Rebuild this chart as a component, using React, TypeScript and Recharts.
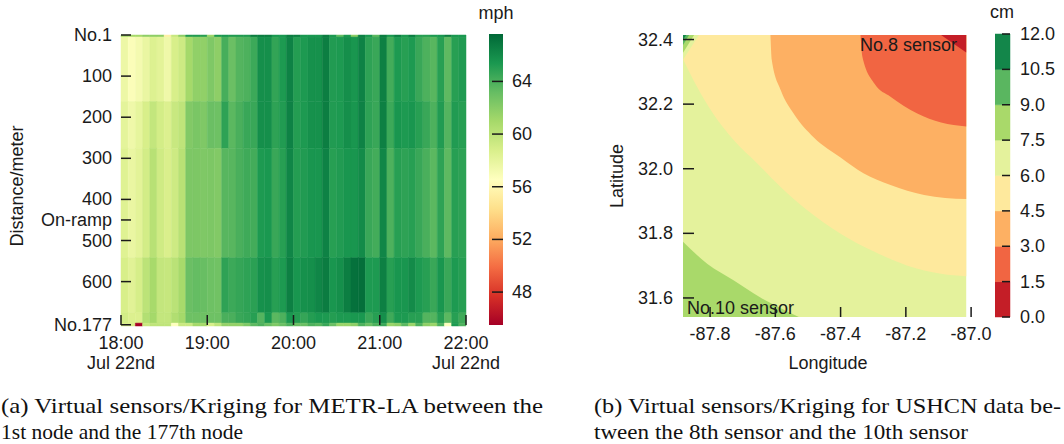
import React from "react";
import { ComposedChart, XAxis, YAxis, ReferenceArea, Area } from "recharts";

const SANS = "'Liberation Sans', Arial, Helvetica, sans-serif";
const SERIF = "'Liberation Serif', 'Times New Roman', serif";
const INK = "#1a1a1a";
const FS = 18;

// ---------- (a) METR-LA speed, mph, 5-minute slots from 18:00 to 22:00 ----------
const SLOT_MIN = 5;
const SEGMENT_EDGES = [0, 5, 162, 276, 542, 676, 701, 708]; // metres from node No.1
const SPEED_NO1 = [61.0, 61.0, 61.0, 61.8, 61.8, 61.8, 55.5, 59.5, 61.8, 65.2, 65.2, 65.0, 61.2, 65.4, 65.4, 65.2, 65.2, 65.2, 66.6, 66.6, 66.6, 65.4, 65.4, 66.6, 66.6, 65.4, 65.4, 65.4, 66.6, 65.3, 63.2, 65.3, 61.8, 66.4, 65.4, 63.4, 66.6, 65.4, 66.6, 65.3, 66.6, 65.0, 65.0, 65.3, 65.4, 66.6, 65.4, 65.4];
const SPEED_SEG_A = [57.6, 56.8, 57.2, 57.8, 58.5, 58.2, 57.5, 58.8, 59.3, 61.0, 61.7, 61.7, 62.3, 61.8, 64.1, 63.0, 63.7, 63.9, 64.4, 65.8, 65.8, 64.7, 65.3, 66.4, 65.1, 65.3, 65.7, 65.7, 66.6, 65.2, 65.3, 65.8, 65.5, 66.4, 64.8, 64.5, 66.5, 64.2, 65.3, 65.0, 65.3, 64.5, 63.9, 63.6, 65.0, 63.4, 65.0, 65.2];
const SPEED_SEG_B = [58.1, 57.5, 58.0, 58.8, 59.7, 59.0, 58.6, 59.5, 59.9, 62.2, 62.5, 62.3, 63.0, 62.9, 64.8, 63.5, 64.0, 64.5, 64.5, 65.8, 65.8, 64.8, 65.2, 66.4, 65.1, 65.3, 65.7, 65.7, 66.6, 65.2, 65.3, 65.8, 65.5, 66.4, 64.8, 64.5, 66.5, 64.4, 65.5, 65.3, 65.5, 65.0, 64.5, 63.9, 65.2, 63.7, 65.2, 65.0];
const SPEED_SEG_C = [58.4, 57.8, 58.2, 59.0, 60.2, 59.2, 58.7, 59.3, 60.2, 62.4, 62.4, 62.3, 62.4, 62.2, 63.6, 63.6, 64.0, 64.3, 64.2, 65.3, 65.4, 64.5, 65.0, 66.2, 65.1, 65.2, 65.5, 65.5, 66.4, 65.0, 65.2, 65.5, 65.5, 66.0, 64.5, 64.2, 66.2, 63.9, 65.0, 64.8, 65.0, 64.5, 64.0, 63.5, 64.8, 63.4, 65.0, 64.8];
const SPEED_SEG_D = [58.8, 58.3, 58.9, 60.0, 60.9, 59.7, 59.6, 60.1, 60.9, 63.0, 63.2, 63.1, 62.9, 62.8, 64.8, 64.4, 64.6, 64.8, 64.9, 65.7, 65.8, 65.0, 65.3, 66.5, 65.5, 65.7, 65.8, 66.2, 66.7, 65.5, 65.8, 66.6, 67.2, 67.3, 65.3, 65.3, 66.5, 65.0, 65.5, 65.5, 66.0, 65.3, 65.0, 64.5, 65.5, 64.5, 65.3, 65.0];
const SPEED_SEG_E = [59.0, 58.6, 58.6, 60.4, 61.0, 59.7, 59.7, 60.5, 61.0, 62.9, 62.9, 62.9, 62.9, 62.9, 64.0, 64.0, 64.5, 64.7, 65.0, 63.7, 65.4, 63.5, 63.9, 65.4, 65.1, 64.6, 65.1, 65.4, 65.3, 65.1, 65.3, 65.3, 65.4, 65.4, 64.5, 65.0, 65.8, 64.3, 65.3, 65.3, 65.0, 65.0, 63.7, 63.7, 65.0, 63.5, 65.0, 64.3];
const SPEED_NO177 = [58.8, 58.8, 45.5, 59.5, 59.9, 59.9, 59.9, 56.6, 59.4, 59.4, 61.0, 61.0, 58.8, 59.9, 61.6, 61.6, 61.6, 62.3, 63.4, 63.9, 63.0, 62.3, 63.0, 63.9, 63.0, 63.0, 63.9, 63.6, 64.5, 63.0, 61.4, 61.4, 61.8, 63.9, 63.0, 63.9, 64.5, 61.4, 61.8, 63.5, 61.4, 63.9, 61.8, 61.4, 63.9, 56.6, 65.3, 63.9];
const SPEED_ROWS = [SPEED_NO1, SPEED_SEG_A, SPEED_SEG_B, SPEED_SEG_C, SPEED_SEG_D, SPEED_SEG_E, SPEED_NO177];

const SPEED_MIN = 45.5;
const SPEED_MAX = 67.6;
const SPEED_TICKS = [48, 52, 56, 60, 64];
const DIST_TICKS = [0, 100, 200, 300, 400, 450, 500, 600, 705];
const DIST_LABELS = ["No.1", "100", "200", "300", "400", "On-ramp", "500", "600", "No.177"];
const TIME_TICKS = [0, 60, 120, 180, 240];
const TIME_LABELS = ["18:00", "19:00", "20:00", "21:00", "22:00"];
const DATE_LABELS = ["Jul 22nd", "", "", "", "Jul 22nd"];

// ---------- (b) USHCN kriging, cm, contour level boundaries (lon, lat) ----------
const LON_MIN = -87.883;
const LON_DATA_MAX = -87.015;
const LON_AXIS_MAX = -86.985;
const LAT_MIN = 31.541;
const LAT_MAX = 32.414;
const LON_TICKS = [-87.8, -87.6, -87.4, -87.2, -87.0];
const LAT_TICKS = [31.6, 31.8, 32.0, 32.2, 32.4];
const LEVELS = [0, 1.5, 3.0, 4.5, 6.0, 7.5, 9.0, 10.5, 12.0];
const LEVEL_COLORS = ["#c41e27", "#f16542", "#fdb063", "#fee99d", "#e4f29c", "#a9d96a", "#5ab660", "#13864a"];

const EDGE_1_5_LON = [-87.092, -87.015];
const EDGE_1_5_LAT = [32.414, 32.360];
const EDGE_3_0_LON = [-87.339, -87.333, -87.296, -87.247, -87.165, -87.092, -87.015];
const EDGE_3_0_LAT = [32.414, 32.346, 32.263, 32.223, 32.171, 32.143, 32.131];
const EDGE_4_5_LON = [-87.615, -87.611, -87.583, -87.544, -87.482, -87.400, -87.330, -87.247, -87.144, -87.015];
const EDGE_4_5_LAT = [32.414, 32.337, 32.242, 32.171, 32.097, 32.035, 31.986, 31.950, 31.919, 31.906];
const EDGE_6_0_LON = [-87.883, -87.840, -87.791, -87.727, -87.656, -87.583, -87.504, -87.400, -87.296, -87.195, -87.092, -87.015];
const EDGE_6_0_LAT = [32.340, 32.254, 32.171, 32.088, 32.017, 31.943, 31.873, 31.799, 31.743, 31.700, 31.675, 31.667];
const EDGE_7_5_LON = [-87.883, -87.809, -87.727, -87.647, -87.583, -87.528];
const EDGE_7_5_LAT = [31.774, 31.706, 31.654, 31.602, 31.568, 31.541];
// small high-value corner at the top left
const CORNER_6_0_LON = [-87.883, -87.834];
const CORNER_6_0_LAT = [32.337, 32.414];
const CORNER_7_5_LON = [-87.883, -87.849];
const CORNER_7_5_LAT = [32.359, 32.414];
const CORNER_9_0_LON = [-87.883, -87.864];
const CORNER_9_0_LAT = [32.383, 32.414];
const CORNER_10_5_LON = [-87.883, -87.873];
const CORNER_10_5_LAT = [32.399, 32.414];
const FULL_LON = [LON_MIN, LON_DATA_MAX];
const FULL_LAT = [LAT_MAX, LAT_MAX];

const RDYLGN = ["#a50026", "#d73027", "#f46d43", "#fdae61", "#fee08b", "#ffffbf", "#d9ef8b", "#a6d96a", "#66bd63", "#1a9850", "#006837"];

function rgb(h: string) {
  return [1, 3, 5].map((i) => parseInt(h.slice(i, i + 2), 16));
}

function speedColor(v: number) {
  const t = Math.max(0, Math.min(1, (v - SPEED_MIN) / (SPEED_MAX - SPEED_MIN)));
  const p = t * 10;
  const i = Math.min(9, Math.floor(p));
  const f = p - i;
  const a = rgb(RDYLGN[i]);
  const b = rgb(RDYLGN[i + 1]);
  return `rgb(${a.map((x, k) => Math.round(x + (b[k] - x) * f)).join(",")})`;
}

const cells = SPEED_ROWS.flatMap((row, r) =>
  row.map((v, c) => ({
    t0: c * SLOT_MIN,
    t1: (c + 1) * SLOT_MIN,
    d0: SEGMENT_EDGES[r],
    d1: SEGMENT_EDGES[r + 1],
    color: speedColor(v),
  }))
);

const edges = [
  { key: "full", lon: FULL_LON, lat: FULL_LAT },
  { key: "e75", lon: EDGE_7_5_LON, lat: EDGE_7_5_LAT },
  { key: "e60", lon: EDGE_6_0_LON, lat: EDGE_6_0_LAT },
  { key: "e45", lon: EDGE_4_5_LON, lat: EDGE_4_5_LAT },
  { key: "e30", lon: EDGE_3_0_LON, lat: EDGE_3_0_LAT },
  { key: "e15", lon: EDGE_1_5_LON, lat: EDGE_1_5_LAT },
  { key: "c60", lon: CORNER_6_0_LON, lat: CORNER_6_0_LAT },
  { key: "c75", lon: CORNER_7_5_LON, lat: CORNER_7_5_LAT },
  { key: "c90", lon: CORNER_9_0_LON, lat: CORNER_9_0_LAT },
  { key: "c105", lon: CORNER_10_5_LON, lat: CORNER_10_5_LAT },
];
const contourRows = edges
  .flatMap((e) => e.lon.map((lon, i) => ({ lon, [e.key]: e.lat[i] })))
  .sort((a, b) => a.lon - b.lon);

// key, fill colour, which side of the edge is filled, curve
const bands: [string, string, number, string][] = [
  ["full", LEVEL_COLORS[4], LAT_MIN, "linear"],
  ["e75", LEVEL_COLORS[5], LAT_MIN, "monotone"],
  ["e60", LEVEL_COLORS[3], LAT_MAX, "monotone"],
  ["e45", LEVEL_COLORS[2], LAT_MAX, "monotone"],
  ["e30", LEVEL_COLORS[1], LAT_MAX, "monotone"],
  ["e15", LEVEL_COLORS[0], LAT_MAX, "linear"],
  ["c60", LEVEL_COLORS[4], LAT_MAX, "linear"],
  ["c75", LEVEL_COLORS[5], LAT_MAX, "linear"],
  ["c90", LEVEL_COLORS[6], LAT_MAX, "linear"],
  ["c105", LEVEL_COLORS[7], LAT_MAX, "linear"],
];

const txt = { fontFamily: SANS, fontSize: FS, fill: INK };

// ticks are drawn inward, labels outside
const DistTick = (p: any) => {
  const i = DIST_TICKS.indexOf(p.payload.value);
  return (
    <g>
      <line x1={p.x} x2={p.x + 10} y1={p.y} y2={p.y} stroke={INK} strokeWidth={1.5} />
      <text x={p.x - 9} y={p.y + 6} textAnchor="end" {...txt}>{DIST_LABELS[i]}</text>
    </g>
  );
};

const TimeTick = (p: any) => {
  const i = TIME_TICKS.indexOf(p.payload.value);
  return (
    <g>
      <line x1={p.x} x2={p.x} y1={p.y - 11} y2={p.y - 1} stroke={INK} strokeWidth={1.5} />
      <text x={p.x} y={p.y + 23} textAnchor="middle" {...txt}>{TIME_LABELS[i]}</text>
      <text x={p.x} y={p.y + 43} textAnchor="middle" {...txt}>{DATE_LABELS[i]}</text>
    </g>
  );
};

const LatTick = (p: any) => (
  <g>
    <line x1={p.x} x2={p.x + 11} y1={p.y} y2={p.y} stroke={INK} strokeWidth={1.5} />
    <text x={p.x - 10} y={p.y + 6} textAnchor="end" {...txt}>{p.payload.value.toFixed(1)}</text>
  </g>
);

const LonTick = (p: any) => (
  <g>
    <line x1={p.x} x2={p.x} y1={p.y - 10} y2={p.y} stroke={INK} strokeWidth={1.5} />
    <text x={p.x} y={p.y + 23} textAnchor="middle" {...txt}>{p.payload.value.toFixed(1)}</text>
  </g>
);

const barTick = (len: number, gap: number, digits: number) => (p: any) => (
  <g>
    <line x1={p.x - len} x2={p.x} y1={p.y} y2={p.y} stroke={INK} strokeWidth={1.5} />
    <text x={p.x + gap} y={p.y + 6} textAnchor="start" {...txt}>{p.payload.value.toFixed(digits)}</text>
  </g>
);

// axis boxes are 1px wide so their ticks still render; tick props then sit on the plot edge
const axisOff = { axisLine: false, tickLine: false, tickSize: 0, tickMargin: 0, interval: 0 as const, allowDataOverflow: true };

export default function App() {
  return (
    <div style={{ position: "absolute", left: 0, top: 0, width: 1064, height: 444, background: "#fff" }}>
      {/* (a) heatmap */}
      <div style={{ position: "absolute", left: 0, top: 0 }}>
        <ComposedChart width={540} height={380} margin={{ top: 35, right: 74, bottom: 53, left: 120 }}>
          {cells.map((c, i) => (
            <ReferenceArea key={i} x1={c.t0} x2={c.t1} y1={c.d0} y2={c.d1}
              fill={c.color} fillOpacity={1} stroke={c.color} strokeWidth={0.5} ifOverflow="visible" />
          ))}
          <XAxis type="number" dataKey="t" domain={[0, 240]} ticks={TIME_TICKS} height={1} tick={<TimeTick />} {...axisOff} />
          <YAxis type="number" domain={[0, 708]} reversed ticks={DIST_TICKS} width={1} tick={<DistTick />} {...axisOff} />
        </ComposedChart>
      </div>

      {/* (a) colour bar */}
      <div style={{ position: "absolute", left: 489, top: 0 }}>
        <ComposedChart width={60} height={340} margin={{ top: 34, right: 45, bottom: 14, left: 0 }}>
          <defs>
            <linearGradient id="rdylgn" x1="0" y1="1" x2="0" y2="0">
              {RDYLGN.map((c, i) => (
                <stop key={c} offset={i / (RDYLGN.length - 1)} stopColor={c} />
              ))}
            </linearGradient>
          </defs>
          <ReferenceArea x1={0} x2={1} y1={SPEED_MIN} y2={SPEED_MAX} fill="url(#rdylgn)" fillOpacity={1} ifOverflow="visible" />
          <XAxis type="number" dataKey="x" domain={[0, 1]} height={1} tick={false} {...axisOff} ticks={[]} />
          <YAxis type="number" orientation="right" domain={[SPEED_MIN, SPEED_MAX]} ticks={SPEED_TICKS} width={1}
            tick={barTick(11, 9, 0)} {...axisOff} />
        </ComposedChart>
      </div>

      {/* (b) contour map */}
      <div style={{ position: "absolute", left: 540, top: 0 }}>
        <ComposedChart width={524} height={380} data={contourRows} margin={{ top: 35, right: 88, bottom: 62, left: 142 }}>
          {bands.map(([key, color, base, type]) => (
            <Area key={key} dataKey={key} type={type as any} baseValue={base} fill={color} fillOpacity={1}
              stroke="none" dot={false} activeDot={false} connectNulls isAnimationActive={false} />
          ))}
          <XAxis type="number" dataKey="lon" domain={[LON_MIN, LON_AXIS_MAX]} ticks={LON_TICKS} height={1} tick={<LonTick />} {...axisOff} />
          <YAxis type="number" domain={[LAT_MIN, LAT_MAX]} ticks={LAT_TICKS} width={1} tick={<LatTick />} {...axisOff} />
        </ComposedChart>
      </div>

      {/* (b) colour bar */}
      <div style={{ position: "absolute", left: 995, top: 0 }}>
        <ComposedChart width={69} height={330} margin={{ top: 34, right: 53, bottom: 12, left: 0 }}>
          {LEVEL_COLORS.map((c, i) => (
            <ReferenceArea key={c} x1={0} x2={1} y1={LEVELS[i]} y2={LEVELS[i + 1]} fill={c} fillOpacity={1}
              stroke={c} strokeWidth={0.5} ifOverflow="visible" />
          ))}
          <XAxis type="number" dataKey="x" domain={[0, 1]} height={1} tick={false} {...axisOff} ticks={[]} />
          <YAxis type="number" orientation="right" domain={[0, 12]} ticks={LEVELS} width={1}
            tick={barTick(8, 10, 1)} {...axisOff} />
        </ComposedChart>
      </div>

      {/* titles, annotations and captions */}
      <svg width={1064} height={444} style={{ position: "absolute", left: 0, top: 0, pointerEvents: "none" }}>
        <text transform="translate(23,186) rotate(-90)" textAnchor="middle" {...txt}>Distance/meter</text>
        <text x={496} y={19} textAnchor="middle" {...txt}>mph</text>
        <text x={1002} y={18} textAnchor="middle" {...txt}>cm</text>
        <text transform="translate(623,176) rotate(-90)" textAnchor="middle" {...txt}>Latitude</text>
        <text x={828} y={369} textAnchor="middle" {...txt}>Longitude</text>
        <text x={860} y={51} {...txt}>No.8 sensor</text>
        <text x={687} y={314} {...txt}>No.10 sensor</text>
        <g fontFamily={SERIF} fontSize={22} fill="#111">
          <text x={1} y={413} textLength={542} lengthAdjust="spacingAndGlyphs">(a) Virtual sensors/Kriging for METR-LA between the</text>
          <text x={1} y={439} textLength={242} lengthAdjust="spacingAndGlyphs">1st node and the 177th node</text>
          <text x={594} y={413} textLength={467} lengthAdjust="spacingAndGlyphs">(b) Virtual sensors/Kriging for USHCN data be-</text>
          <text x={594} y={439} textLength={374} lengthAdjust="spacingAndGlyphs">tween the 8th sensor and the 10th sensor</text>
        </g>
      </svg>
    </div>
  );
}
